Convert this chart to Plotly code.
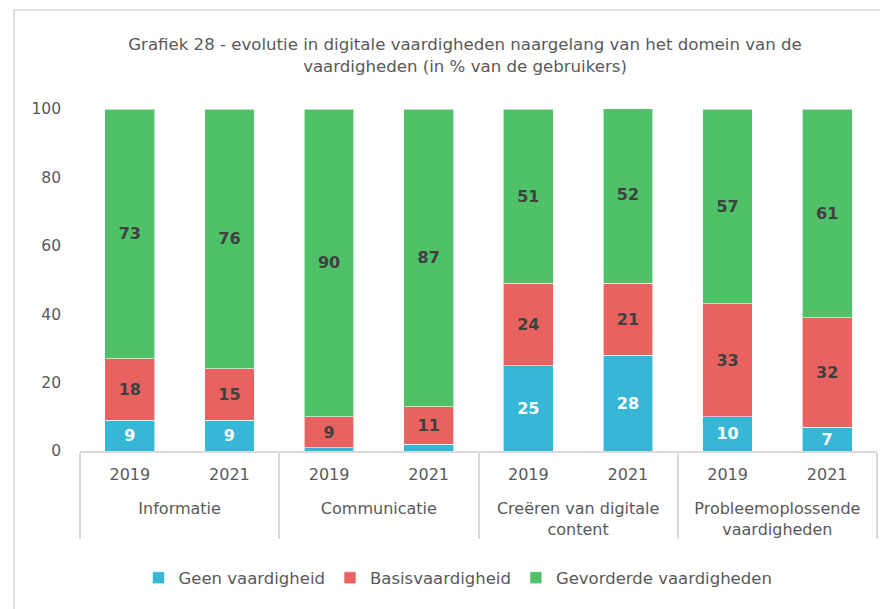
import plotly.graph_objects as go

domains = ["<br>Informatie", "<br>Informatie", "<br>Communicatie", "<br>Communicatie",
           "<br>Creëren van digitale<br>content", "<br>Creëren van digitale<br>content",
           "<br>Probleemoplossende<br>vaardigheden", "<br>Probleemoplossende<br>vaardigheden"]
years = ["2019", "2021", "2019", "2021", "2019", "2021", "2019", "2021"]

geen = [9, 9, 1, 2, 25, 28, 10, 7]
basis = [18, 15, 9, 11, 24, 21, 33, 32]
gevorderd = [73, 76, 90, 87, 51, 52, 57, 61]

geen_labels = ["9", "9", "", "", "25", "28", "10", "7"]
basis_labels = ["18", "15", "9", "11", "24", "21", "33", "32"]
gevorderd_labels = ["73", "76", "90", "87", "51", "52", "57", "61"]

series_names = ["Geen vaardigheid", "Basisvaardigheid", "Gevorderde vaardigheden"]
colors = ["#36B7D5", "#E8635F", "#4FC169"]
label_colors = ["white", "#404040", "#404040"]

FONT = "DejaVu Sans"

# The page body has an 8px margin, so figure coords = page coords - 8
OFF = 8
H = 609
plot_top, plot_bottom = 109 - OFF, 451 - OFF
plot_left, plot_right = 80 - OFF, 877 - OFF
ph = plot_bottom - plot_top


def ypaper(page_y):
    return (plot_bottom - (page_y - OFF)) / ph


fig = go.Figure()
for name, vals, labs, col, lc in zip(series_names, [geen, basis, gevorderd],
                                      [geen_labels, basis_labels, gevorderd_labels],
                                      colors, label_colors):
    fig.add_trace(go.Bar(
        x=[domains, years], y=vals, name=name,
        marker=dict(color=col, line=dict(color="rgba(255,255,255,0.6)", width=1)),
        text=labs, textposition="inside", insidetextanchor="middle",
        textangle=0, constraintext="none",
        textfont=dict(family=FONT, size=16, color=lc, weight="bold"),
        hoverinfo="skip",
    ))

fig.update_layout(
    barmode="stack",
    bargap=0.5,
    width=888, height=H,
    margin=dict(l=plot_left, r=888 - plot_right, t=plot_top, b=H - plot_bottom,
                autoexpand=False),
    paper_bgcolor="white", plot_bgcolor="white",
    font=dict(family=FONT, color="#595959", size=15),
    title=dict(
        text="Grafiek 28 - evolutie in digitale vaardigheden naargelang van het domein van de<br>vaardigheden (in % van de gebruikers)",
        x=(465 - OFF) / 888, xanchor="center", y=(H - (50 - OFF)) / H, yanchor="middle",
        font=dict(family=FONT, size=16.6, color="#595959"),
    ),
    legend=dict(
        orientation="h", x=(458 - plot_left - OFF) / (plot_right - plot_left),
        xanchor="center", y=ypaper(578), yanchor="middle",
        font=dict(family=FONT, size=16.5, color="#595959"),
        itemwidth=30, traceorder="normal",
    ),
    uniformtext=dict(mode=False),
)

fig.update_xaxes(
    type="multicategory", automargin=False,
    showline=True, linecolor="#D9D9D9", linewidth=1.5,
    showdividers=True, dividercolor="#D9D9D9", dividerwidth=1.5,
    tickfont=dict(family=FONT, size=16, color="#595959"),
    ticks="", showgrid=False, ticklabelstandoff=8,
)
fig.update_yaxes(
    range=[0, 100], tickvals=[0, 20, 40, 60, 80, 100], automargin=False,
    showgrid=False, zeroline=False, showline=False,
    tickfont=dict(family=FONT, size=15.5, color="#595959"),
    ticks="", ticklabelstandoff=18,
)

# outer chart border
fig.add_shape(type="rect", xref="paper", yref="paper",
              x0=(14 - 80) / 797, x1=1.1, y0=-0.6, y1=ypaper(10),
              line=dict(color="#D9D9D9", width=1.5), fillcolor="rgba(0,0,0,0)",
              layer="below")

fig.write_html("out.html")
